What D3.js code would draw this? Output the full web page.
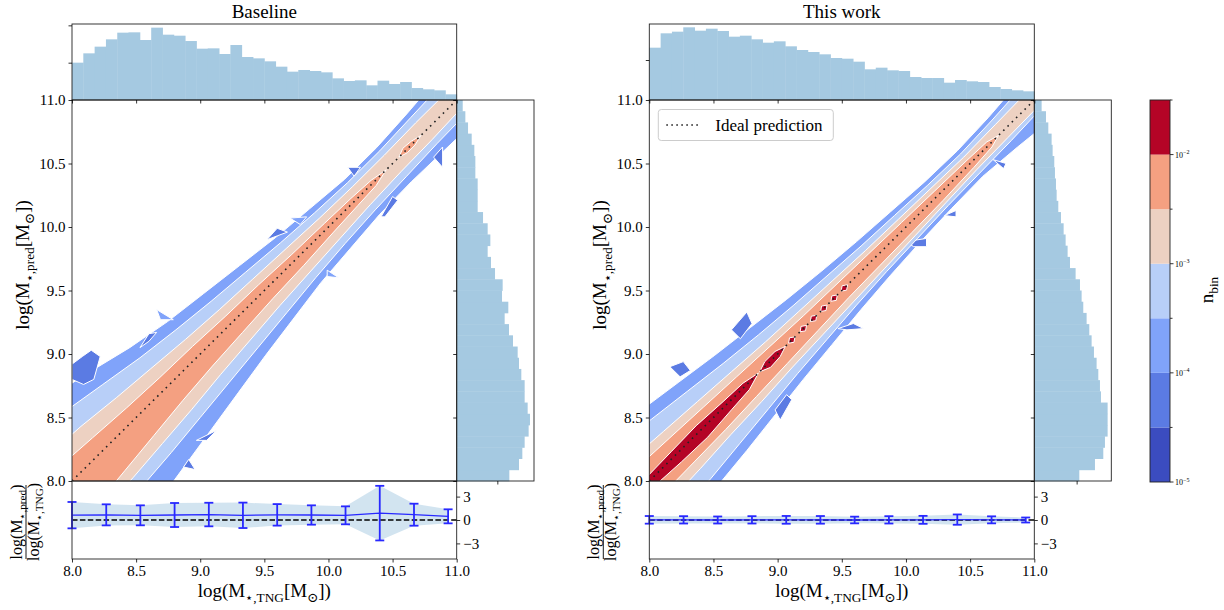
<!DOCTYPE html>
<html><head><meta charset="utf-8">
<script src="https://cdn.jsdelivr.net/npm/d3@7"></script>
<style>
body{margin:0;background:#fff}
text{font-family:"Liberation Serif","DejaVu Serif",serif;fill:#000}
</style>
</head><body>
<svg id="c" width="1224" height="610"></svg>
<script>
// ---------------- DATA ----------------
const mainTicks = [8.0, 8.5, 9.0, 9.5, 10.0, 10.5, 11.0];
const resTicks = [-3, 0, 3];
const histTickVals = [1000, 2000];
const nBins = 34;

const baseTopCounts = [1000,1250,1429,1625,1804,1813,1607,1938,1750,1723,1580,1375,1384,1232,1473,1152,1116,1036,893,759,804,777,741,580,509,527,393,518,429,482,321,286,259,152];
const baseRightCounts = [1295,1533,1615,1672,1770,1803,1746,1672,1672,1590,1533,1500,1385,1287,1180,1270,1115,1131,943,844,762,828,762,648,516,516,516,459,459,434,369,279,213,148];
const oursTopCounts = [1308,1667,1708,1817,1733,1783,1725,1583,1608,1517,1433,1467,1342,1250,1200,1142,1050,1033,958,767,808,742,725,575,550,550,433,500,467,450,325,275,242,217];
const oursRightCounts = [1063,1433,1630,1669,1732,1732,1732,1575,1551,1512,1472,1409,1354,1299,1236,1157,1118,1079,976,843,787,740,693,630,567,528,512,488,472,433,409,331,276,173];

const resX = [8.0, 8.267, 8.533, 8.8, 9.067, 9.333, 9.6, 9.867, 10.133, 10.4, 10.667, 10.933];
const baseResMean = [0.62,0.66,0.60,0.64,0.70,0.60,0.66,0.64,0.60,0.88,0.68,0.47];
const baseResErr  = [1.69,1.35,1.28,1.54,1.51,1.63,1.38,1.24,1.15,3.50,1.41,0.90];
const oursResMean = [0.02,0.02,0.00,0.02,0.02,0.02,0.00,0.02,0.02,0.05,0.02,0.00];
const oursResErr  = [0.49,0.47,0.45,0.47,0.50,0.49,0.43,0.47,0.51,0.66,0.45,0.32];

// contour band boundaries: t = position along the diagonal, s = log Mpred - log Mtng
const tGrid = [7.8, 8.0, 8.25, 8.5, 8.75, 9.0, 9.25, 9.5, 9.75, 10.0, 10.25, 10.5, 10.75, 11.0, 11.2];
const baseMedUp   = [0.86,0.85,0.83,0.72,0.60,0.51,0.45,0.39,0.33,0.29,0.25,0.25,0.28,0.32,0.32];
const baseMedLo   = [-0.92,-0.90,-0.84,-0.76,-0.68,-0.60,-0.52,-0.45,-0.38,-0.34,-0.30,-0.29,-0.30,-0.31,-0.30];
const baseLightUp = [0.66,0.64,0.60,0.52,0.44,0.38,0.33,0.29,0.25,0.22,0.20,0.20,0.22,0.24,0.24];
const baseLightLo = [-0.62,-0.61,-0.59,-0.55,-0.50,-0.45,-0.40,-0.35,-0.30,-0.26,-0.23,-0.21,-0.19,-0.18,-0.17];
const baseBeigeUp = [0.40,0.39,0.36,0.31,0.27,0.23,0.20,0.18,0.16,0.14,0.13,0.13,0.14,0.14,0.12];
const baseBeigeLo = [-0.48,-0.47,-0.45,-0.41,-0.37,-0.32,-0.28,-0.24,-0.21,-0.18,-0.15,-0.13,-0.12,-0.10,-0.08];
const baseSalmonT  = [7.8,8.0,8.25,8.5,8.75,9.0,9.25,9.5,9.75,10.0,10.2,10.35,10.45];
const baseSalmonUp = [0.22,0.21,0.18,0.15,0.13,0.12,0.10,0.09,0.07,0.06,0.05,0.035,0.0];
const baseSalmonLo = [-0.40,-0.38,-0.33,-0.28,-0.23,-0.19,-0.16,-0.13,-0.11,-0.08,-0.06,-0.045,0.0];
const baseSalmonIslT  = [10.55,10.6,10.66,10.72];
const baseSalmonIslUp = [0.0,0.04,0.03,0.0];
const baseSalmonIslLo = [0.0,-0.03,-0.03,0.0];
const baseDarkBlobs = [
  [[8.0,8.80],[8.09,8.76],[8.17,8.80],[8.22,8.98],[8.15,9.03],[8.08,8.98],[8.0,8.92]],
  [[8.53,9.05],[8.60,9.10],[8.66,9.17],[8.60,9.16]],
  [[9.52,9.90],[9.60,9.99],[9.68,9.96],[9.60,9.93]],
  [[10.15,10.47],[10.25,10.47],[10.20,10.40]],
  [[10.41,10.08],[10.50,10.24],[10.54,10.21],[10.44,10.08]],
  [[10.82,10.55],[10.89,10.63],[10.89,10.47]],
  [[8.97,8.32],[9.13,8.40],[9.05,8.32]],
  [[8.87,8.11],[8.96,8.09],[8.91,8.17]]
];
const baseMedSpikes = [
  [[8.66,9.35],[8.79,9.27],[8.69,9.27]],
  [[9.70,10.07],[9.83,10.08],[9.78,10.02]],
  [[9.99,9.66],[10.08,9.60],[9.99,9.61]]
];

const oursMedUp   = [0.70,0.68,0.62,0.55,0.48,0.42,0.36,0.31,0.27,0.24,0.21,0.20,0.22,0.26,0.26];
const oursMedLo   = [-0.62,-0.60,-0.57,-0.52,-0.46,-0.40,-0.35,-0.30,-0.26,-0.23,-0.21,-0.20,-0.24,-0.29,-0.30];
const oursLightUp = [0.55,0.53,0.47,0.41,0.35,0.30,0.26,0.23,0.20,0.18,0.16,0.15,0.17,0.20,0.20];
const oursLightLo = [-0.52,-0.50,-0.46,-0.41,-0.36,-0.31,-0.27,-0.23,-0.20,-0.18,-0.16,-0.15,-0.14,-0.12,-0.11];
const oursBeigeUp = [0.32,0.31,0.28,0.25,0.22,0.19,0.17,0.15,0.13,0.12,0.11,0.10,0.11,0.12,0.11];
const oursBeigeLo = [-0.33,-0.32,-0.30,-0.27,-0.25,-0.22,-0.20,-0.18,-0.16,-0.14,-0.12,-0.10,-0.09,-0.08,-0.07];
const oursSalmonT  = [7.8,8.0,8.25,8.5,8.75,9.0,9.25,9.5,9.75,10.0,10.25,10.5,10.65,10.72];
const oursSalmonUp = [0.21,0.20,0.18,0.16,0.14,0.12,0.10,0.09,0.08,0.07,0.06,0.05,0.04,0.0];
const oursSalmonLo = [-0.22,-0.21,-0.20,-0.19,-0.17,-0.15,-0.13,-0.11,-0.10,-0.09,-0.08,-0.06,-0.04,0.0];
const oursRedT  = [7.8,8.0,8.2,8.4,8.6,8.75,8.85];
const oursRedUp = [0.05,0.05,0.06,0.07,0.05,0.04,0.0];
const oursRedLo = [-0.08,-0.08,-0.10,-0.11,-0.08,-0.06,0.0];
const oursRed2T  = [8.86,8.92,9.0,9.06];
const oursRed2Up = [0.0,0.04,0.04,0.0];
const oursRed2Lo = [0.0,-0.05,-0.04,0.0];
const oursRedIslands = [9.11, 9.20, 9.28, 9.36, 9.44, 9.52];
const oursDarkBlobs = [
  [[8.16,8.90],[8.265,8.94],[8.32,8.87],[8.24,8.82]],
  [[8.64,9.19],[8.76,9.33],[8.80,9.24],[8.71,9.12]],
  [[8.98,8.56],[9.07,8.68],[9.11,8.64],[9.02,8.48]],
  [[9.47,9.20],[9.59,9.24],[9.67,9.20],[9.54,9.19]],
  [[10.0,9.885],[10.16,9.91],[10.16,9.845],[10.06,9.845]],
  [[10.30,10.09],[10.39,10.13],[10.39,10.08]],
  [[10.68,10.53],[10.78,10.50],[10.76,10.46]]
];

const cbExponents = [-5,-4.5,-4,-3.5,-3,-2.5,-2,-1.5];
const cbMajor = [-5,-4,-3,-2];
const levelColors = ['#3b4cc0','#5b7be3','#80a3fa','#b8cff8','#edd1c2','#f4a081','#b40426'];

// ---------------- LAYOUT ----------------
const TOP_T = 24, MAIN_T = 100, MAIN_B = 481, RES_B = 559;
const FS = 15;
const SERIF = '"Liberation Serif","DejaVu Serif",serif';
const svg = d3.select('#c');
const histColor = '#a5c9e1';

function styleAxis(g){
  g.attr('font-family', SERIF).attr('font-size', FS);
  g.select('.domain').remove();
  g.selectAll('line').attr('stroke','#000').attr('stroke-width',0.8);
  g.selectAll('text').style('font-size',FS+'px').style('font-family',SERIF);
}
function spine(x0,y0,x1,y1){
  svg.append('rect').attr('x',x0).attr('y',y0).attr('width',x1-x0).attr('height',y1-y0)
    .attr('fill','none').attr('stroke','#222').attr('stroke-width',0.9);
}
function mathText(parent, parts, fs){
  const t = parent.append('text').style('font-size',fs+'px');
  let sub = false;
  parts.forEach(p=>{
    const ts = t.append('tspan').text(p.t);
    if(p.sub && !sub){ ts.attr('dy', 0.28*fs).style('font-size',(0.7*fs)+'px'); sub=true; }
    else if(p.sub){ ts.style('font-size',(0.7*fs)+'px'); }
    else if(!p.sub && sub){ ts.attr('dy', -0.28*fs); sub=false; }
  });
  return t;
}

function drawPanel(p){
  const x = d3.scaleLinear([8,11],[p.x0,p.x1]);
  const y = d3.scaleLinear([8,11],[MAIN_B,MAIN_T]);
  const yTop = d3.scaleLinear([0,p.topMax],[MAIN_T,TOP_T]);
  const xRight = d3.scaleLinear([0,p.rightMax],[p.x1,p.hx1]);
  const yRes = d3.scaleLinear([-5,5],[RES_B,MAIN_B]);
  const edges = d3.range(nBins+1).map(i=>8+3*i/nBins);

  svg.append('g').selectAll('rect').data(p.topCounts).join('rect')
    .attr('x',(d,i)=>x(edges[i])).attr('width',(d,i)=>x(edges[i+1])-x(edges[i])+0.4)
    .attr('y',d=>yTop(d)).attr('height',d=>yTop(0)-yTop(d)).attr('fill',histColor);
  svg.append('g').selectAll('rect').data(p.rightCounts).join('rect')
    .attr('y',(d,i)=>y(edges[i+1])).attr('height',(d,i)=>y(edges[i])-y(edges[i+1])+0.4)
    .attr('x',xRight(0)).attr('width',d=>xRight(d)-xRight(0)).attr('fill',histColor);

  const clipId = 'clip'+p.id;
  svg.append('clipPath').attr('id',clipId).append('rect')
    .attr('x',p.x0).attr('y',MAIN_T).attr('width',p.x1-p.x0).attr('height',MAIN_B-MAIN_T);
  const gm = svg.append('g').attr('clip-path',`url(#${clipId})`);
  const line = d3.line().x(d=>x(d[0])).y(d=>y(d[1]));
  function poly(pts,color){
    gm.append('path').attr('d',line(pts)+'Z').attr('fill',color)
      .attr('stroke','#fff').attr('stroke-width',1).attr('stroke-linejoin','round');
  }
  p.bands.forEach(b=>{ b.shapes.forEach(s=>poly(s, levelColors[b.level])); });
  gm.append('path').attr('d',line([[8,8],[11,11]])).attr('stroke','#222').attr('stroke-width',1.6)
    .attr('stroke-dasharray','1.6,4.4').attr('fill','none');

  const area = d3.area().x((d,i)=>x(resX[i])).y0((d,i)=>yRes(p.resMean[i]-p.resErr[i])).y1((d,i)=>yRes(p.resMean[i]+p.resErr[i]));
  svg.append('path').attr('d',area(p.resMean)).attr('fill','#1f77b4').attr('fill-opacity',0.2);
  svg.append('line').attr('x1',x(8)).attr('x2',x(11)).attr('y1',yRes(0)).attr('y2',yRes(0))
    .attr('stroke','#000').attr('stroke-width',1.4).attr('stroke-dasharray','5.5,2.4');
  const rl = d3.line().x((d,i)=>x(resX[i])).y(d=>yRes(d));
  svg.append('path').attr('d',rl(p.resMean)).attr('fill','none').attr('stroke','#2828ff').attr('stroke-width',1.3);
  const eb = svg.append('g').attr('stroke','#2828ff').attr('stroke-width',1.8);
  resX.forEach((xv,i)=>{
    const cx = x(xv), yt = yRes(p.resMean[i]+p.resErr[i]), yb = yRes(p.resMean[i]-p.resErr[i]);
    eb.append('line').attr('x1',cx).attr('x2',cx).attr('y1',yt).attr('y2',yb);
    eb.append('line').attr('x1',cx-4.5).attr('x2',cx+4.5).attr('y1',yt).attr('y2',yt);
    eb.append('line').attr('x1',cx-4.5).attr('x2',cx+4.5).attr('y1',yb).attr('y2',yb);
  });

  spine(p.x0,TOP_T,p.x1,MAIN_T);
  spine(p.x0,MAIN_T,p.x1,MAIN_B);
  spine(p.x1,MAIN_T,p.hx1,MAIN_B);
  spine(p.x0,MAIN_B,p.x1,RES_B);

  const fmt = d3.format('.1f');
  svg.append('g').attr('transform',`translate(${p.x0},0)`)
    .call(d3.axisLeft(y).tickValues(mainTicks).tickFormat(fmt).tickSize(3.5).tickPadding(3)).call(styleAxis);
  svg.append('g').attr('transform',`translate(0,${RES_B})`)
    .call(d3.axisBottom(x).tickValues(mainTicks).tickFormat(fmt).tickSize(3.5).tickPadding(3)).call(styleAxis);
  svg.append('g').attr('transform',`translate(${p.x1},0)`)
    .call(d3.axisRight(yRes).tickValues(resTicks).tickFormat(d=>d<0?'\u2212'+Math.abs(d):String(d)).tickSize(3.5).tickPadding(3)).call(styleAxis);
  svg.append('g').attr('transform',`translate(${p.x0},0)`)
    .call(d3.axisLeft(yTop).tickValues(histTickVals.filter(v=>v<p.topMax)).tickFormat('').tickSize(3.5)).call(styleAxis);
  svg.append('g').attr('transform',`translate(0,${MAIN_T})`)
    .call(d3.axisBottom(x).tickValues(mainTicks).tickFormat('').tickSize(3.5)).call(styleAxis);
  svg.append('g').attr('transform',`translate(${p.x1},0)`)
    .call(d3.axisLeft(y).tickValues(mainTicks).tickFormat('').tickSize(3.5)).call(styleAxis);
  svg.append('g').attr('transform',`translate(0,${MAIN_B})`)
    .call(d3.axisBottom(xRight).tickValues(histTickVals.filter(v=>v<p.rightMax)).tickFormat('').tickSize(3.5)).call(styleAxis);

  svg.append('text').attr('x',(p.x0+p.x1)/2).attr('y',18).attr('text-anchor','middle')
    .style('font-size','19px').text(p.title);
  mathText(svg,[{t:'log(M'},{t:'\u22c6,TNG',sub:true},{t:'[M'},{t:'\u2299',sub:true},{t:'])'}],19)
    .attr('x',(p.x0+p.x1)/2).attr('y',597).attr('text-anchor','middle');
  const gy = svg.append('g').attr('transform',`translate(${p.x0-43},265) rotate(-90)`);
  mathText(gy,[{t:'log(M'},{t:'\u22c6,pred',sub:true},{t:'[M'},{t:'\u2299',sub:true},{t:'])'}],19)
    .attr('x',0).attr('y',0).attr('text-anchor','middle');
  const gf = svg.append('g').attr('transform',`translate(${p.x0-46},522) rotate(-90)`);
  mathText(gf,[{t:'log(M'},{t:'\u22c6,pred',sub:true},{t:')'}],16).attr('x',0).attr('y',-4).attr('text-anchor','middle');
  mathText(gf,[{t:'log(M'},{t:'\u22c6,TNG',sub:true},{t:')'}],16).attr('x',0).attr('y',12.5).attr('text-anchor','middle');
  gf.append('line').attr('x1',-37).attr('x2',37).attr('y1',0).attr('y2',0).attr('stroke','#000').attr('stroke-width',0.9);

  if(p.legend){
    const lg = svg.append('g');
    lg.append('rect').attr('x',p.x0+9).attr('y',109.5).attr('width',175).attr('height',31).attr('rx',3)
      .attr('fill','#fff').attr('fill-opacity',0.8).attr('stroke','#cccccc').attr('stroke-width',1);
    lg.append('line').attr('x1',p.x0+17).attr('x2',p.x0+52).attr('y1',125).attr('y2',125)
      .attr('stroke','#222').attr('stroke-width',1.6).attr('stroke-dasharray','1.6,3.4');
    lg.append('text').attr('x',p.x0+66).attr('y',131).style('font-size','17px').text('Ideal prediction');
  }
}

function bandShapes(T,U,L){
  const toXY = (t,s)=>[t - s/2, t + s/2];
  return T.map((t,i)=>toXY(t,U[i])).concat(T.map((t,i)=>toXY(t,L[i])).reverse());
}
function islandShape(t){
  const toXY = (tt,s)=>[tt - s/2, tt + s/2];
  return [toXY(t-0.025,0),toXY(t,0.035),toXY(t+0.025,0),toXY(t,-0.035)];
}

drawPanel({
  id:'L', x0:72, x1:456.7, hx1:534, title:'Baseline',
  topCounts:baseTopCounts, rightCounts:baseRightCounts, topMax:2036, rightMax:1902,
  resMean:baseResMean, resErr:baseResErr, legend:false,
  bands:[
    {level:2, shapes:[bandShapes(tGrid,baseMedUp,baseMedLo)].concat(baseMedSpikes)},
    {level:1, shapes:baseDarkBlobs},
    {level:3, shapes:[bandShapes(tGrid,baseLightUp,baseLightLo)]},
    {level:4, shapes:[bandShapes(tGrid,baseBeigeUp,baseBeigeLo)]},
    {level:5, shapes:[bandShapes(baseSalmonT,baseSalmonUp,baseSalmonLo),bandShapes(baseSalmonIslT,baseSalmonIslUp,baseSalmonIslLo)]}
  ]
});
drawPanel({
  id:'R', x0:649.3, x1:1034.3, hx1:1111.3, title:'This work',
  topCounts:oursTopCounts, rightCounts:oursRightCounts, topMax:1900, rightMax:1819,
  resMean:oursResMean, resErr:oursResErr, legend:true,
  bands:[
    {level:2, shapes:[bandShapes(tGrid,oursMedUp,oursMedLo)]},
    {level:1, shapes:oursDarkBlobs},
    {level:3, shapes:[bandShapes(tGrid,oursLightUp,oursLightLo)]},
    {level:4, shapes:[bandShapes(tGrid,oursBeigeUp,oursBeigeLo)]},
    {level:5, shapes:[bandShapes(oursSalmonT,oursSalmonUp,oursSalmonLo)]},
    {level:6, shapes:[bandShapes(oursRedT,oursRedUp,oursRedLo),bandShapes(oursRed2T,oursRed2Up,oursRed2Lo)].concat(oursRedIslands.map(islandShape))}
  ]
});

// colorbar
const cbX0 = 1150, cbX1 = 1170;
const cbY = d3.scaleLog([1e-5, Math.pow(10,-1.5)],[482,100]);
const cb = svg.append('g');
cbExponents.slice(0,-1).forEach((e,i)=>{
  cb.append('rect').attr('x',cbX0).attr('width',cbX1-cbX0)
    .attr('y',cbY(Math.pow(10,cbExponents[i+1]))).attr('height',cbY(Math.pow(10,e))-cbY(Math.pow(10,cbExponents[i+1])))
    .attr('fill',levelColors[i]);
});
spine(cbX0,100,cbX1,482);
cbExponents.forEach(e=>{
  const major = cbMajor.includes(e);
  cb.append('line').attr('x1',cbX1).attr('x2',cbX1+(major?3.5:2.5))
    .attr('y1',cbY(Math.pow(10,e))).attr('y2',cbY(Math.pow(10,e))).attr('stroke','#000').attr('stroke-width',0.8);
});
cbMajor.forEach(e=>{
  const t = cb.append('text').attr('x',cbX1+5).attr('y',cbY(Math.pow(10,e))+3).style('font-size','8px');
  t.append('tspan').text('10');
  t.append('tspan').attr('dy',-3.5).style('font-size','6px').text('\u2212'+Math.abs(e));
});
const gcl = svg.append('g').attr('transform','translate(1213,290) rotate(-90)');
mathText(gcl,[{t:'n'},{t:'bin',sub:true}],19).attr('text-anchor','middle');
</script>
</body></html>
